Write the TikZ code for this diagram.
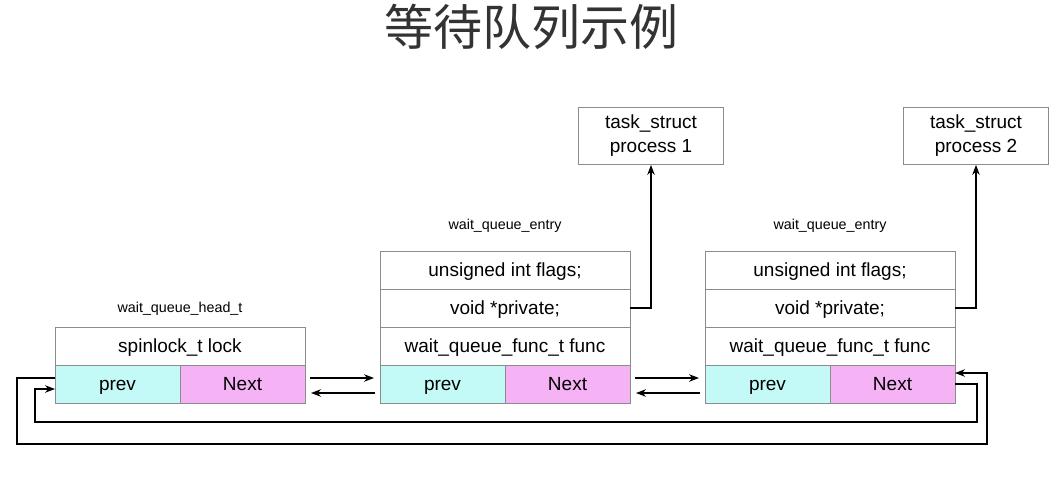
\documentclass[tikz,border=0pt]{standalone}
\usepackage{fontspec}
\setmainfont{Liberation Sans}
\newfontfamily\cjk{Noto Sans CJK SC}
\usetikzlibrary{positioning}
\usetikzlibrary{arrows.meta}

\definecolor{prevc}{RGB}{195,250,247}
\definecolor{nextc}{RGB}{245,178,245}
\definecolor{cellc}{RGB}{140,140,140}

\tikzset{
  cell/.style={draw=cellc,line width=0.8pt,outer sep=0pt,minimum width=250pt,minimum height=38pt,inner sep=0pt,text height=15pt,text depth=2pt,font=\fontsize{19}{22}\selectfont},
  half/.style={cell,minimum width=125pt},
  lbl/.style={inner sep=0pt,text height=10pt,text depth=3pt,font=\fontsize{14.3}{16}\selectfont},
  task/.style={draw=cellc,line width=0.8pt,minimum width=145pt,minimum height=57pt,inner sep=0pt,align=center,font=\fontsize{19}{24}\selectfont},
  arr/.style={line width=1.2pt,-{Stealth[length=10pt,width=7.5pt]}},
}

\begin{document}
\begin{tikzpicture}[x=1pt,y=-1pt]
\useasboundingbox[fill=white] (0,0) rectangle (1063,483);

\node[font=\cjk\fontsize{49}{53}\selectfont,text=black!80] (title) at (531,27) {等待队列示例};

\node[cell] (lock) at (180,346) {spinlock\_t lock};
\node[half,fill=prevc,anchor=north west] (hprev) at (lock.south west) {prev};
\node[half,fill=nextc,right=0pt of hprev] (hnext) {Next};
\node[lbl,above=11.5pt of lock] {wait\_queue\_head\_t};

\node[cell] (flags1) at (505,270) {unsigned int flags;};
\node[cell,below=0pt of flags1] (priv1) {void *private;};
\node[cell,below=0pt of priv1] (func1) {wait\_queue\_func\_t func};
\node[half,fill=prevc,anchor=north west] (prev1) at (func1.south west) {prev};
\node[half,fill=nextc,right=0pt of prev1] (next1) {Next};
\node[lbl,above=18pt of flags1] {wait\_queue\_entry};

\node[cell] (flags2) at (830,270) {unsigned int flags;};
\node[cell,below=0pt of flags2] (priv2) {void *private;};
\node[cell,below=0pt of priv2] (func2) {wait\_queue\_func\_t func};
\node[half,fill=prevc,anchor=north west] (prev2) at (func2.south west) {prev};
\node[half,fill=nextc,right=0pt of prev2] (next2) {Next};
\node[lbl,above=18pt of flags2] {wait\_queue\_entry};

\node[task] (task1) at (651,136) {task\_struct\\process 1};
\node[task] (task2) at (976,136) {task\_struct\\process 2};

\draw[arr] (priv1.east) -| (task1.south);
\draw[arr] (priv2.east) -| (task2.south);

\draw[arr] ([shift={(5pt,6pt)}]hnext.east) -- ([shift={(-6pt,6pt)}]prev1.west);
\draw[arr] ([shift={(-5pt,-9pt)}]prev1.west) -- ([shift={(6pt,-9pt)}]hnext.east);
\draw[arr] ([shift={(5pt,6pt)}]next1.east) -- ([shift={(-6pt,6pt)}]prev2.west);
\draw[arr] ([shift={(-5pt,-9pt)}]prev2.west) -- ([shift={(6pt,-9pt)}]next1.east);

\coordinate (inr) at (977,422);
\coordinate (inl) at (35,422);
\coordinate (outl) at (17,444);
\coordinate (outr) at (987,444);
\draw[arr] (next2.east) -| (inr) -- (inl) |- ([yshift=-5pt]hprev.west);
\draw[arr] ([yshift=6pt]hprev.west) -| (outl) -- (outr) |- ([yshift=11pt]next2.east);
\end{tikzpicture}
\end{document}
